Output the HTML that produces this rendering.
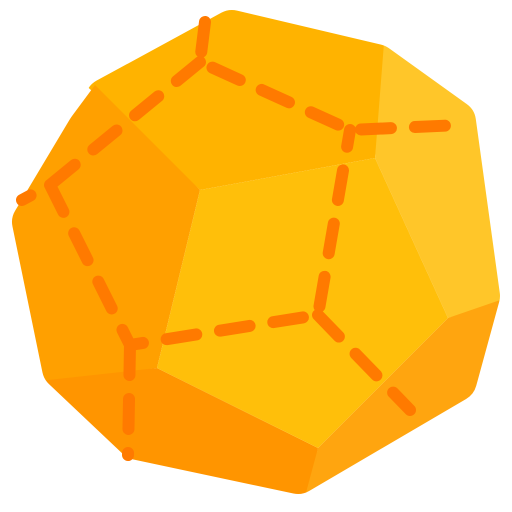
<!DOCTYPE html>
<html><head><meta charset="utf-8"><style>html,body{margin:0;padding:0;background:#fff}svg{display:block}</style></head>
<body>
<svg width="512" height="512" viewBox="0 0 512 512">
<defs>
<mask id="m">
<polygon points="107,100 232,32 376,66 454,122 478,296 455,380 298,472 138,438 64,368 34,222" fill="#fff" stroke="#fff" stroke-width="44" stroke-linejoin="round"/>
</mask>
</defs>
<g mask="url(#m)">
<polygon points="80,80 230,-5 390,35 375,158 200,190" fill="#FFB300"/>
<polygon points="385,30 485,100 515,300 448,318 375,158" fill="#FFC629"/>
<polygon points="95,85 200,190 157,368 40,385 -5,220" fill="#FFA000"/>
<polygon points="30,382 157,368 318,448 305,515 120,480" fill="#FF9500"/>
<polygon points="448,318 515,295 490,400 300,515 318,448" fill="#FFA50F"/>
<polygon points="200,190 375,158 448,318 318,448 157,368" fill="#FFBF0A"/>
</g>
<g fill="none" stroke="#FF7A00" stroke-width="12" stroke-linecap="round" stroke-linejoin="round" stroke-dasharray="30 24">
<path d="M205,22 L200,62 L350,130 L460,125"/>
<path d="M200,62 L50,185 L22,200"/>
<path d="M50,185 L130,345 L318,315 L350,130"/>
<path d="M318,315 L410,410"/>
<path d="M130,345 L128,455"/>
</g>
</svg>
</body></html>
